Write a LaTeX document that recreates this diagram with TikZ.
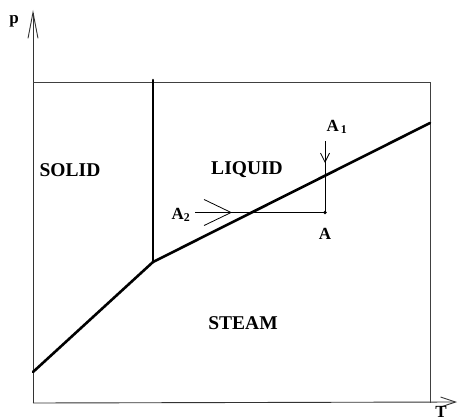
\documentclass[tikz,border=0pt]{standalone}
\usepackage{fontspec}
\setmainfont{Liberation Serif}
\usetikzlibrary{arrows.meta, positioning}

\begin{document}
\begin{tikzpicture}[
  x=1pt, y=-1pt,
  lbl/.style={font=\fontsize{19.5}{21}\selectfont\bfseries, inner sep=0pt},
  pt/.style={font=\fontsize{17}{19}\selectfont\bfseries, inner sep=0pt},
  axis/.style={line width=0.9pt, black!80},
  frame/.style={line width=0.9pt, black!75},
  curve/.style={line width=2.6pt, line cap=round},
  thin/.style={line width=0.8pt},
]
  \useasboundingbox (0,0) rectangle (458,420);
  % axes
  \coordinate (O) at (33,403);
  \coordinate (ytop) at (33,10);
  \coordinate (xend) at (457,402);
  \draw[axis, -{Straight Barb[length=26pt, width=10pt]}] (O) -- (ytop);
  \draw[axis, -{Straight Barb[length=15pt, width=10pt]}] (O) -- (xend);
  \node[pt] (p) at (14,21) {p};
  \node[pt] (T) at (441,412) {T};
  % frame
  \coordinate (tl) at (33,82);
  \coordinate (tr) at (430,82);
  \coordinate (br) at (430,403);
  \draw[frame] (tl) -- (tr) -- (br);
  % phase boundaries
  \coordinate (trip) at (153,262);
  \coordinate (sub) at (33,372);
  \coordinate (melt) at (153,80);
  \coordinate (vap) at (430,123);
  \draw[curve] (sub) -- (trip) -- (vap);
  \draw[curve] (trip) -- (melt);
  % regions
  \node[lbl] (solid) at (70,170) {SOLID};
  \node[lbl] (liquid) at (247,170) {LIQUID};
  \node[lbl] (steam) at (243,323) {STEAM};
  % state A and paths
  \node[circle, fill, inner sep=1.3pt] (A) at (325,212.5) {};
  \node[pt, below=14pt of A] (Alab) {A};
  \node[pt] (A1) at (337,127) {A$_{\,\mathbf{1}}$};
  \node[pt] (A2) at (181,215) {A$_{\mathbf{2}}$};
  \coordinate (a1top) at (325,141);
  \coordinate (a1tip) at (325,163);
  \coordinate (a2left) at (195,212.5);
  \coordinate (a2tip) at (232,212.5);
  \draw[thin] (a1top) -- (A.center);
  \draw[thin, -{Straight Barb[length=9pt, width=9pt]}] (a1top) -- (a1tip);
  \draw[thin] (a2left) -- (A.center);
  \draw[thin, -{Straight Barb[length=27pt, width=26pt]}] (a2left) -- (a2tip);
\end{tikzpicture}
\end{document}
